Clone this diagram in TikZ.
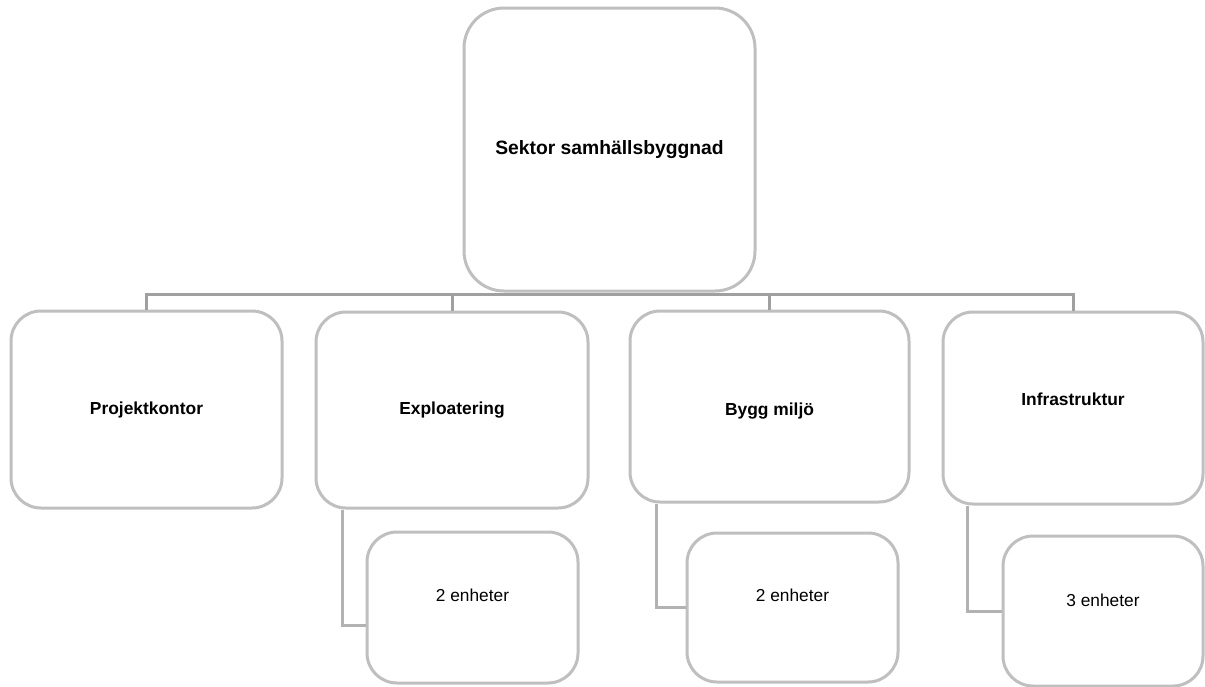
\documentclass[tikz,border=0pt]{standalone}
\usepackage{fontspec}
\setmainfont{Liberation Sans}

\definecolor{boxgray}{RGB}{191,191,191}
\definecolor{busgray}{RGB}{160,160,160}
\definecolor{linkgray}{RGB}{178,178,178}

\begin{document}
\begin{tikzpicture}[
      x=1pt,y=-1pt,
      unit/.style={draw=boxgray,line width=3pt,fill=white,rounded corners=30pt,
        inner sep=0pt,font=\bfseries\fontsize{17.4}{20}\selectfont},
      subunit/.style={unit,font=\fontsize{17.3}{20}\selectfont,text depth=24pt},
      bus/.style={draw=busgray,line width=3pt},
      link/.style={draw=linkgray,line width=3pt}
    ]
    \useasboundingbox (0,0) rectangle (1205,686);
    \node [unit,rounded corners=40pt,minimum width=291pt,minimum height=283pt,
      font=\bfseries\fontsize{19.3}{22}\selectfont] (sektor) at (609.5,149.5) {Sektor samhällsbyggnad};
    % name/x/y/width/height/text height/text depth/text
    \foreach \n/\x/\y/\w/\h/\hi/\lo/\t in {projekt/146.5/409.5/271/197/12.7/3.7/Projektkontor,
        explo/452/410/272/196/12.7/3.7/Exploatering,bygg/769.5/406.5/279/191/20.7/3.7/Bygg miljö,
        infra/1073/408/260/192/12.7/18/Infrastruktur} {
      \node [unit,minimum width=\w pt,minimum height=\h pt,text height=\hi pt,text depth=\lo pt]
        (\n) at (\x,\y) {\t};
      \draw [bus] (sektor.south) ++(0,2) -| (\n.north);
    }
    \node [subunit,minimum width=211pt,minimum height=151pt] (explo2) at (472.5,607.5) {2 enheter};
    \node [subunit,minimum width=211pt,minimum height=149pt] (bygg2) at (792.5,607.5) {2 enheter};
    \node [subunit,minimum width=200pt,minimum height=150pt,text depth=22pt] (infra3) at (1103,611) {3 enheter};
    \draw [link] ([xshift=28pt]explo.south west) |- ([yshift=-18pt]explo2.west);
    \draw [link] ([xshift=28pt]bygg.south west) |- (bygg2.west);
    \draw [link] ([xshift=26pt]infra.south west) |- (infra3.west);
  \end{tikzpicture}
\end{document}
